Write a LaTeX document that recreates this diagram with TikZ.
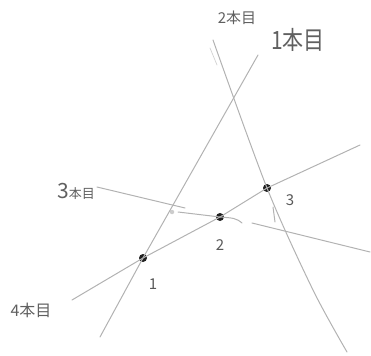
\documentclass[tikz,border=0pt]{standalone}
\usepackage{fontspec}
\newfontfamily\jp{Noto Sans CJK JP}
\begin{document}
\begin{tikzpicture}[x=1pt,y=-1pt,
  pencil/.style={draw=gray!60, line width=1pt, line cap=round, line join=round},
  faint/.style={draw=gray!35, line width=0.7pt, line cap=round},
  dotmark/.style={circle, fill=gray!25!black, inner sep=0pt, minimum size=8pt},
  faintdot/.style={circle, fill=gray!40, inner sep=0pt, minimum size=4.5pt},
  lab/.style={text=gray!75!black, inner sep=0pt, font=\jp},
  num/.style={text=gray!70!black, inner sep=0pt, font=\jp\fontsize{15}{15}\selectfont}]
\useasboundingbox (0,0) rectangle (371,355);
% intersection dots
\node[dotmark] (d1) at (143,258) {};
\node[dotmark] (d2) at (220,217) {};
\node[dotmark] (d3) at (267,188) {};
\node[faintdot] (fx) at (172,212) {};
% end points
\coordinate (a1) at (258,55);
\coordinate (b1) at (100,337);
\coordinate (a2) at (213,40);
\coordinate (m2) at (313,290);
\coordinate (b2) at (347,352);
\coordinate (a2s) at (210,48);
\coordinate (b2s) at (217,65);
\coordinate (a3) at (97,187);
\coordinate (m3) at (185,208);
\coordinate (c3) at (178,212);
\coordinate (e3) at (242,223);
\coordinate (f3) at (252,223);
\coordinate (b3) at (370,252);
\coordinate (a4) at (72,300);
\coordinate (b4) at (360,145);
\coordinate (t1) at (273,207);
\coordinate (t2) at (275,222);
% lines
\draw[pencil] (a1) -- (d1.center) -- (b1);
\draw[pencil] plot[smooth] coordinates {(a2) (d3.center) (m2) (b2)};
\draw[faint] (a2s) -- (b2s);
\draw[pencil] (a3) -- (m3);
\draw[pencil] (c3) -- (d2.center) .. controls (233,218) and (236,218) .. (e3);
\draw[pencil] (f3) -- (b3);
\draw[pencil] (a4) -- (d1.center) -- (d2.center) -- (d3.center) -- (b4);
\draw[pencil] (t1) -- (t2);
% labels
\node[lab, font=\jp\fontsize{15}{15}\selectfont] (l2) at (237,18) {2本目};
\node[lab, font=\jp\fontsize{21}{21}\selectfont, yscale=1.2] (l1) at (298,40) {1本目};
\node[lab] (l3) at (76,191) {{\fontsize{21}{21}\selectfont 3}{\fontsize{13}{13}\selectfont 本目}};
\node[lab, font=\jp\fontsize{16}{16}\selectfont] (l4) at (31,310) {4本目};
\node[num] (n1) at (153,284) {1};
\node[num] (n2) at (220,245) {2};
\node[num] (n3) at (290,200) {3};
\end{tikzpicture}
\end{document}
